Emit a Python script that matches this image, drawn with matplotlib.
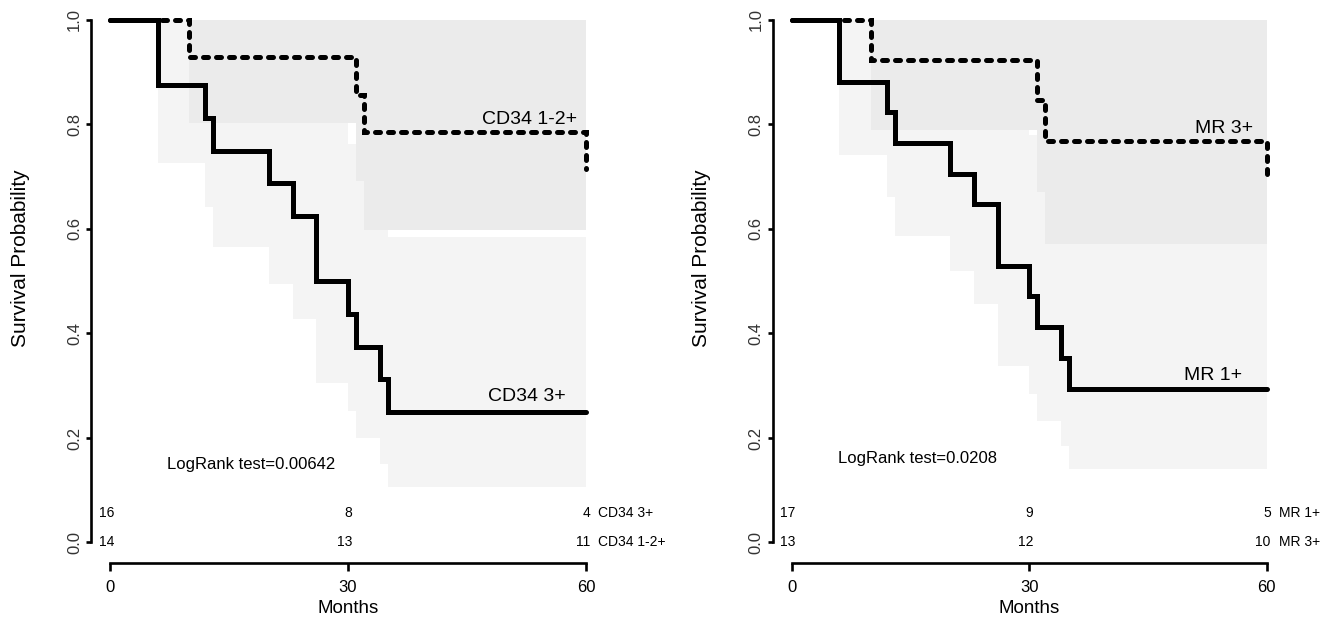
import matplotlib
matplotlib.use("Agg")
import matplotlib.pyplot as plt

plt.rcParams["font.family"] = ["Liberation Sans", "DejaVu Sans"]

# ---- left panel: CD34 ----
cd34_hi_t = [0, 6, 12, 13, 20, 23, 26, 30, 31, 34, 35, 60]
cd34_hi_s = [1.0, 0.875, 0.8125, 0.75, 0.6875, 0.625, 0.5, 0.4375, 0.375, 0.3125, 0.25, 0.25]
cd34_hi_ci_t = [6, 12, 13, 20, 23, 26, 30, 31, 34, 35, 60]
cd34_hi_lo = [0.727, 0.642, 0.565, 0.494, 0.428, 0.306, 0.251, 0.199, 0.151, 0.107, 0.107]
cd34_hi_up = [1.0, 1.0, 0.995, 0.957, 0.914, 0.816, 0.763, 0.706, 0.646, 0.584, 0.584]

cd34_lo_t = [0, 10, 31, 32, 60]
cd34_lo_s = [1.0, 0.929, 0.857, 0.786, 0.714]
cd34_lo_ci_t = [10, 31, 32, 60]
cd34_lo_lo = [0.803, 0.692, 0.598, 0.598]
cd34_lo_up = [1.0, 1.0, 1.0, 1.0]

# ---- right panel: MR ----
mr1_t = [0, 6, 12, 13, 20, 23, 26, 30, 31, 34, 35, 60]
mr1_s = [1.0, 0.882, 0.824, 0.765, 0.706, 0.647, 0.529, 0.471, 0.412, 0.353, 0.294, 0.294]
mr1_ci_t = [6, 12, 13, 20, 23, 26, 30, 31, 34, 35, 60]
mr1_lo = [0.742, 0.661, 0.587, 0.519, 0.456, 0.338, 0.284, 0.233, 0.185, 0.141, 0.141]
mr1_up = [1.0, 1.0, 0.996, 0.959, 0.919, 0.829, 0.779, 0.727, 0.672, 0.614, 0.614]

mr3_t = [0, 10, 31, 32, 60]
mr3_s = [1.0, 0.923, 0.846, 0.769, 0.692]
mr3_ci_t = [10, 31, 32, 60]
mr3_lo = [0.789, 0.671, 0.571, 0.571]
mr3_up = [1.0, 1.0, 1.0, 1.0]

risk_times = [0, 30, 60]
cd34_risk = {"CD34 3+": [16, 8, 4], "CD34 1-2+": [14, 13, 11]}
mr_risk = {"MR 1+": [17, 9, 5], "MR 3+": [13, 12, 10]}

LIGHT = "#F4F4F4"
DARK = "#EBEBEB"


def panel(ax, solid, dashed, risk, labels, label_pos, logrank, lr_pos):
    st, ss, sct, slo, sup = solid
    dt, ds, dct, dlo, dup = dashed
    ax.fill_between(sct, slo, sup, step="post", color=LIGHT, lw=0)
    ax.fill_between(dct, dlo, dup, step="post", color=DARK, lw=0)
    ax.step(st, ss, where="post", color="black", lw=3.6,
            solid_capstyle="round", solid_joinstyle="miter")
    ax.step(dt, ds, where="post", color="black", lw=3.6, dashes=(1.0, 1.6),
            dash_capstyle="round", dash_joinstyle="miter")

    ax.set_xlim(-2.4, 62.4)
    ax.set_ylim(-0.04, 1.04)
    for sp in ("top", "right"):
        ax.spines[sp].set_visible(False)
    ax.spines["left"].set_bounds(0, 1)
    ax.spines["bottom"].set_bounds(0, 60)
    ax.spines["left"].set_linewidth(1.9)
    ax.spines["bottom"].set_linewidth(1.9)
    ax.set_xticks([0, 30, 60])
    ax.set_yticks([0, 0.2, 0.4, 0.6, 0.8, 1.0])
    ax.set_yticklabels(["0.0", "0.2", "0.4", "0.6", "0.8", "1.0"])
    ax.tick_params(axis="x", length=6, width=1.9, pad=6, labelsize=12)
    ax.tick_params(axis="y", length=3.6, width=1.9, pad=3, labelsize=12,
                   labelrotation=90, colors="black")
    for lab in ax.get_yticklabels():
        lab.set_va("center")
        lab.set_color("#333333")

    ax.text(-0.138, 0.54, "Survival Probability", transform=ax.transAxes,
            rotation=90, ha="center", va="center", fontsize=15)
    ax.text(30, -0.127, "Months", ha="center", va="center", fontsize=13.5)

    for (name, (x, y)) in zip(labels, label_pos):
        ax.text(x, y, name, ha="right", va="baseline", fontsize=14)

    ax.text(lr_pos[0], lr_pos[1], logrank, ha="center", va="baseline", fontsize=12)

    for row, (name, counts) in zip([0.057, 0.0], risk.items()):
        for t, n in zip(risk_times, counts):
            ax.text(t + 0.5, row, str(n), ha="right", va="center", fontsize=10)
        ax.text(61.5, row, name, ha="left", va="center", fontsize=10)


fig = plt.figure(figsize=(13.33, 6.21), dpi=100)
axL = fig.add_axes([0.0683, 0.0928, 0.3856, 0.9088])
axR = fig.add_axes([0.5797, 0.0928, 0.3849, 0.9088])

panel(axL,
      (cd34_hi_t, cd34_hi_s, cd34_hi_ci_t, cd34_hi_lo, cd34_hi_up),
      (cd34_lo_t, cd34_lo_s, cd34_lo_ci_t, cd34_lo_lo, cd34_lo_up),
      cd34_risk, ["CD34 1-2+", "CD34 3+"], [(58.9, 0.801), (57.4, 0.27)],
      "LogRank test=0.00642", (17.8, 0.14))
panel(axR,
      (mr1_t, mr1_s, mr1_ci_t, mr1_lo, mr1_up),
      (mr3_t, mr3_s, mr3_ci_t, mr3_lo, mr3_up),
      mr_risk, ["MR 3+", "MR 1+"], [(58.3, 0.783), (56.9, 0.311)],
      "LogRank test=0.0208", (15.9, 0.153))

fig.savefig("out.png", dpi=100, facecolor="white")
